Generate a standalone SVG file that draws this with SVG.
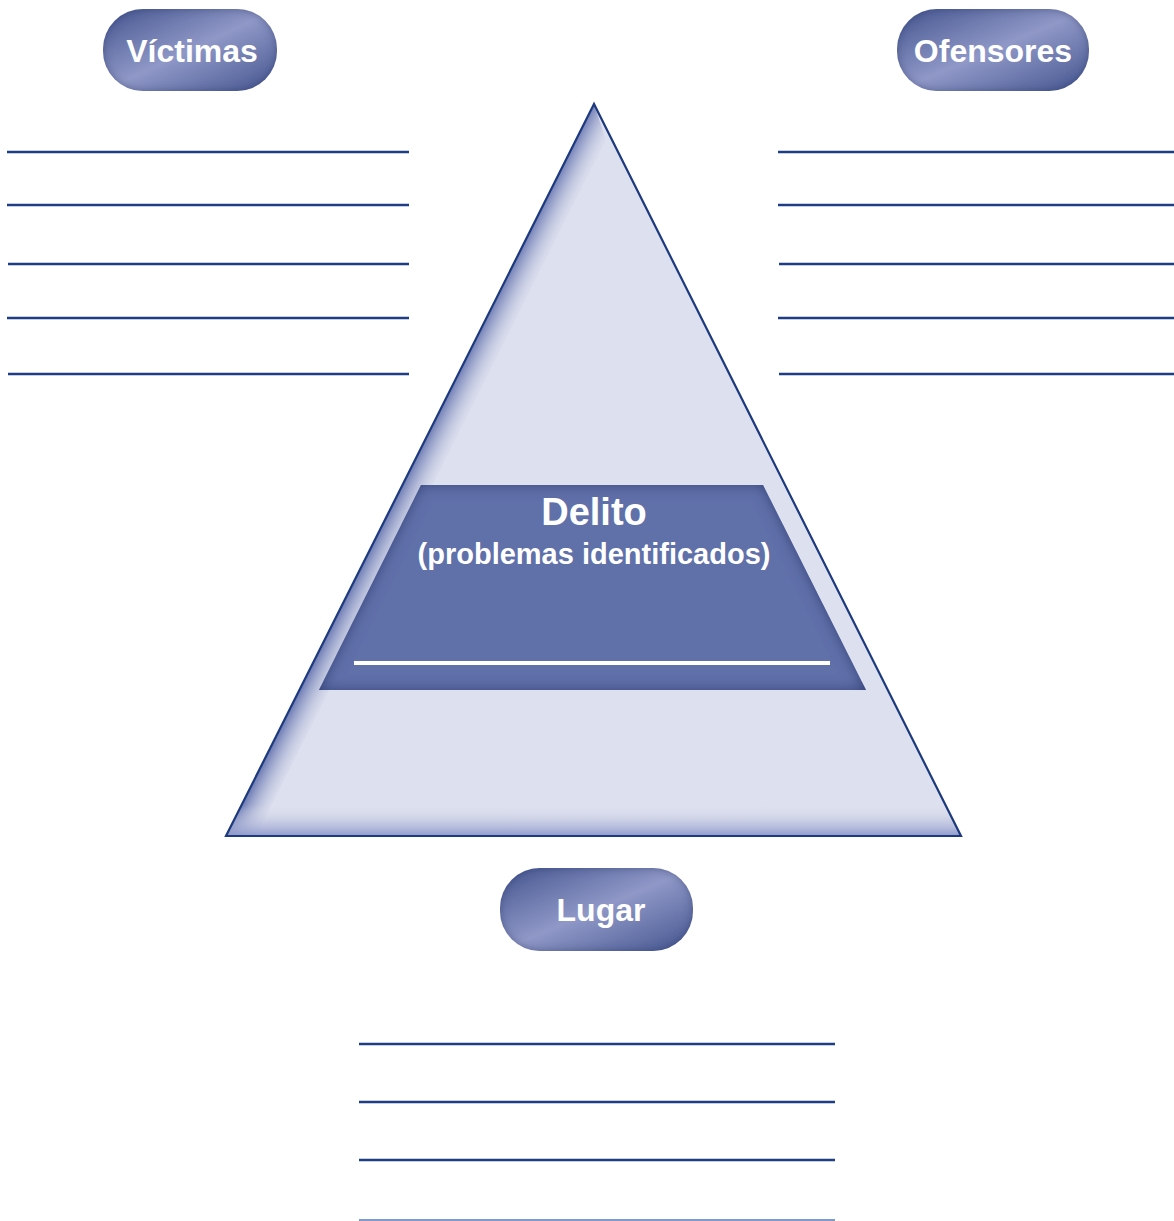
<svg xmlns="http://www.w3.org/2000/svg" width="1174" height="1221" viewBox="0 0 1174 1221">
<defs>
<linearGradient id="pill" x1="0" y1="0" x2="1" y2="1">
<stop offset="0" stop-color="#45558f"/>
<stop offset="0.5" stop-color="#8f98c7"/>
<stop offset="1" stop-color="#45558f"/>
</linearGradient>
<linearGradient id="bevL" gradientUnits="userSpaceOnUse" x1="410" y1="470" x2="440" y2="485">
<stop offset="0" stop-color="#6e7cb4"/>
<stop offset="1" stop-color="#dde0ee" stop-opacity="0"/>
</linearGradient>
<linearGradient id="bevB" gradientUnits="userSpaceOnUse" x1="0" y1="836" x2="0" y2="805">
<stop offset="0" stop-color="#8f9acb"/>
<stop offset="1" stop-color="#dde0ee" stop-opacity="0"/>
</linearGradient>
<filter id="inset" x="-5%" y="-5%" width="110%" height="110%">
<feFlood flood-color="#2b3a72"/>
<feComposite in2="SourceAlpha" operator="out"/>
<feGaussianBlur stdDeviation="7"/>
<feComposite in2="SourceAlpha" operator="in" result="sh"/>
<feMerge><feMergeNode in="SourceGraphic"/><feMergeNode in="sh"/></feMerge>
</filter>
<filter id="pillsh" x="-10%" y="-10%" width="120%" height="120%">
<feFlood flood-color="#2b3a72" flood-opacity="0.7"/>
<feComposite in2="SourceAlpha" operator="out"/>
<feGaussianBlur stdDeviation="4"/>
<feComposite in2="SourceAlpha" operator="in" result="sh"/>
<feMerge><feMergeNode in="SourceGraphic"/><feMergeNode in="sh"/></feMerge>
</filter>
</defs>
<style>
.ln{stroke:#1f3d86;stroke-width:2.3;fill:none}
.pt{fill:#fff;font-family:"Liberation Sans",Arial,sans-serif;font-weight:bold;font-size:32px;text-anchor:middle}
.pill{fill:url(#pill);filter:url(#pillsh)}
</style>
<rect width="1174" height="1221" fill="#fff"/>

<g id="triangulo">
<polygon points="594,104 226,836 961,836" fill="#dde0ee"/>
<polygon points="594,104 226,836 256,836 606,140" fill="url(#bevL)"/>
<polygon points="226,836 961,836 945,805 242,805" fill="url(#bevB)"/>
<polygon points="594,104 226,836 961,836" fill="none" stroke="#1e3a7e" stroke-width="2.2" stroke-linejoin="miter"/>
</g>

<g id="delito">
<polygon points="421,485 763,485 866,690 319,690" fill="#6070a9" filter="url(#inset)"/>
<line x1="354" y1="663" x2="830" y2="663" stroke="#fff" stroke-width="4"/>
<text x="594" y="525" fill="#fff" font-family="'Liberation Sans',Arial,sans-serif" font-weight="bold" font-size="38" text-anchor="middle">Delito</text>
<text x="594" y="564" fill="#fff" font-family="'Liberation Sans',Arial,sans-serif" font-weight="bold" font-size="29" text-anchor="middle">(problemas identificados)</text>
</g>

<g id="victimas">
<rect class="pill" x="103" y="9" width="174" height="82" rx="40" ry="40"/>
<text class="pt" x="192" y="62">Víctimas</text>
</g>

<g id="ofensores">
<rect class="pill" x="897" y="9" width="192" height="82" rx="40" ry="40"/>
<text class="pt" x="993" y="62">Ofensores</text>
</g>

<g id="lugar">
<rect class="pill" x="500" y="868" width="193" height="83" rx="40" ry="40"/>
<text class="pt" x="601" y="921">Lugar</text>
</g>

<g id="lineas">
<line class="ln" x1="7" y1="152" x2="409" y2="152"/>
<line class="ln" x1="7" y1="205" x2="409" y2="205"/>
<line class="ln" x1="8" y1="264" x2="409" y2="264"/>
<line class="ln" x1="7" y1="318" x2="409" y2="318"/>
<line class="ln" x1="8" y1="374" x2="409" y2="374"/>
<line class="ln" x1="778" y1="152" x2="1174" y2="152"/>
<line class="ln" x1="778" y1="205" x2="1174" y2="205"/>
<line class="ln" x1="779" y1="264" x2="1174" y2="264"/>
<line class="ln" x1="778" y1="318" x2="1174" y2="318"/>
<line class="ln" x1="779" y1="374" x2="1174" y2="374"/>
<line class="ln" x1="359" y1="1044" x2="835" y2="1044"/>
<line class="ln" x1="359" y1="1102" x2="835" y2="1102"/>
<line class="ln" x1="359" y1="1160" x2="835" y2="1160"/>
<line x1="359" y1="1220" x2="835" y2="1220" stroke="#7f9acb" stroke-width="2"/>
</g>
</svg>
